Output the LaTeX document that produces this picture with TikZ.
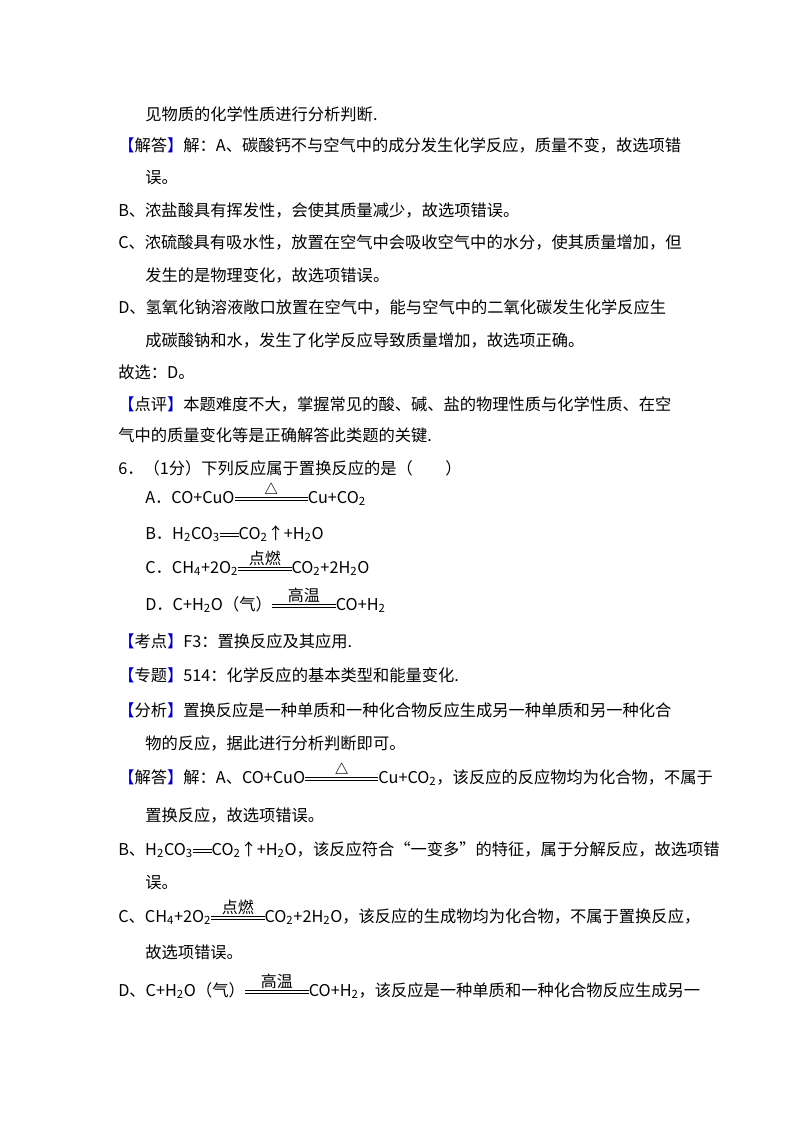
\documentclass[tikz,border=0pt]{standalone}
\usepackage{fontspec}
\setmainfont{Noto Sans CJK SC}
\newcommand\dbl[2]{\raisebox{0.3ex}{\rlap{\rule{#1}{0.5pt}}\raisebox{2.2pt}{\rlap{\rule{#1}{0.5pt}}}\raisebox{4.5pt}{\makebox[#1]{\fontsize{12}{12}\selectfont #2}}}}
\newcommand\bk[1]{\textcolor{blue!75!black}{【}#1\textcolor{blue!75!black}{】}}
\newcommand\sub[1]{\textsubscript{#1}}
\begin{document}
\begin{tikzpicture}[x=0.75pt,y=-0.75pt,
  t/.style={anchor=base west,inner sep=0pt,font=\fontsize{12.2}{14}\selectfont}]
\useasboundingbox[fill=white] (0,0) rectangle (800,1132);
\node[t] (l1) at (145,120) {见物质的化学性质进行分析判断.};
\node[t] (l2) at (118,151) {\bk{解答}解：A、碳酸钙不与空气中的成分发生化学反应，质量不变，故选项错};
\node[t] (l3) at (145,183) {误。};
\node[t] (l4) at (118,216) {B、浓盐酸具有挥发性，会使其质量减少，故选项错误。};
\node[t] (l5) at (118,248) {C、浓硫酸具有吸水性，放置在空气中会吸收空气中的水分，使其质量增加，但};
\node[t] (l6) at (145,281) {发生的是物理变化，故选项错误。};
\node[t] (l7) at (118,313) {D、氢氧化钠溶液敞口放置在空气中，能与空气中的二氧化碳发生化学反应生};
\node[t] (l8) at (145,346) {成碳酸钠和水，发生了化学反应导致质量增加，故选项正确。};
\node[t] (l9) at (118,378) {故选：D。};
\node[t] (l10) at (118,410) {\bk{点评}本题难度不大，掌握常见的酸、碱、盐的物理性质与化学性质、在空};
\node[t] (l11) at (118,441) {气中的质量变化等是正确解答此类题的关键.};
\node[t] (l12) at (118,474) {6．（1分）下列反应属于置换反应的是（\qquad）};
\node[t] (a) at (145,503) {A．CO+CuO\dbl{55pt}{$\triangle$}Cu+CO\sub2};
\node[t] (b) at (145,539) {B．H\sub2CO\sub3\dbl{14pt}{}CO\sub2↑+H\sub2O};
\node[t] (c) at (145,573) {C．CH\sub4+2O\sub2\dbl{40pt}{点燃}CO\sub2+2H\sub2O};
\node[t] (d) at (145,610) {D．C+H\sub2O（气）\dbl{48pt}{高温}CO+H\sub2};
\node[t] (l13) at (118,647) {\bk{考点}F3：置换反应及其应用.};
\node[t] (l14) at (118,681) {\bk{专题}514：化学反应的基本类型和能量变化.};
\node[t] (l15) at (118,716) {\bk{分析}置换反应是一种单质和一种化合物反应生成另一种单质和另一种化合};
\node[t] (l16) at (145,749) {物的反应，据此进行分析判断即可。};
\node[t] (l17) at (118,783) {\bk{解答}解：A、CO+CuO\dbl{55pt}{$\triangle$}Cu+CO\sub2，该反应的反应物均为化合物，不属于};
\node[t] (l18) at (145,821) {置换反应，故选项错误。};
\node[t] (l19) at (118,855) {B、H\sub2CO\sub3\dbl{14pt}{}CO\sub2↑+H\sub2O，该反应符合“一变多”的特征，属于分解反应，故选项错};
\node[t] (l20) at (145,888) {误。};
\node[t] (l21) at (118,922) {C、CH\sub4+2O\sub2\dbl{40pt}{点燃}CO\sub2+2H\sub2O，该反应的生成物均为化合物，不属于置换反应，};
\node[t] (l22) at (145,958) {故选项错误。};
\node[t] (l23) at (118,996) {D、C+H\sub2O（气）\dbl{48pt}{高温}CO+H\sub2，该反应是一种单质和一种化合物反应生成另一};
\end{tikzpicture}
\end{document}
